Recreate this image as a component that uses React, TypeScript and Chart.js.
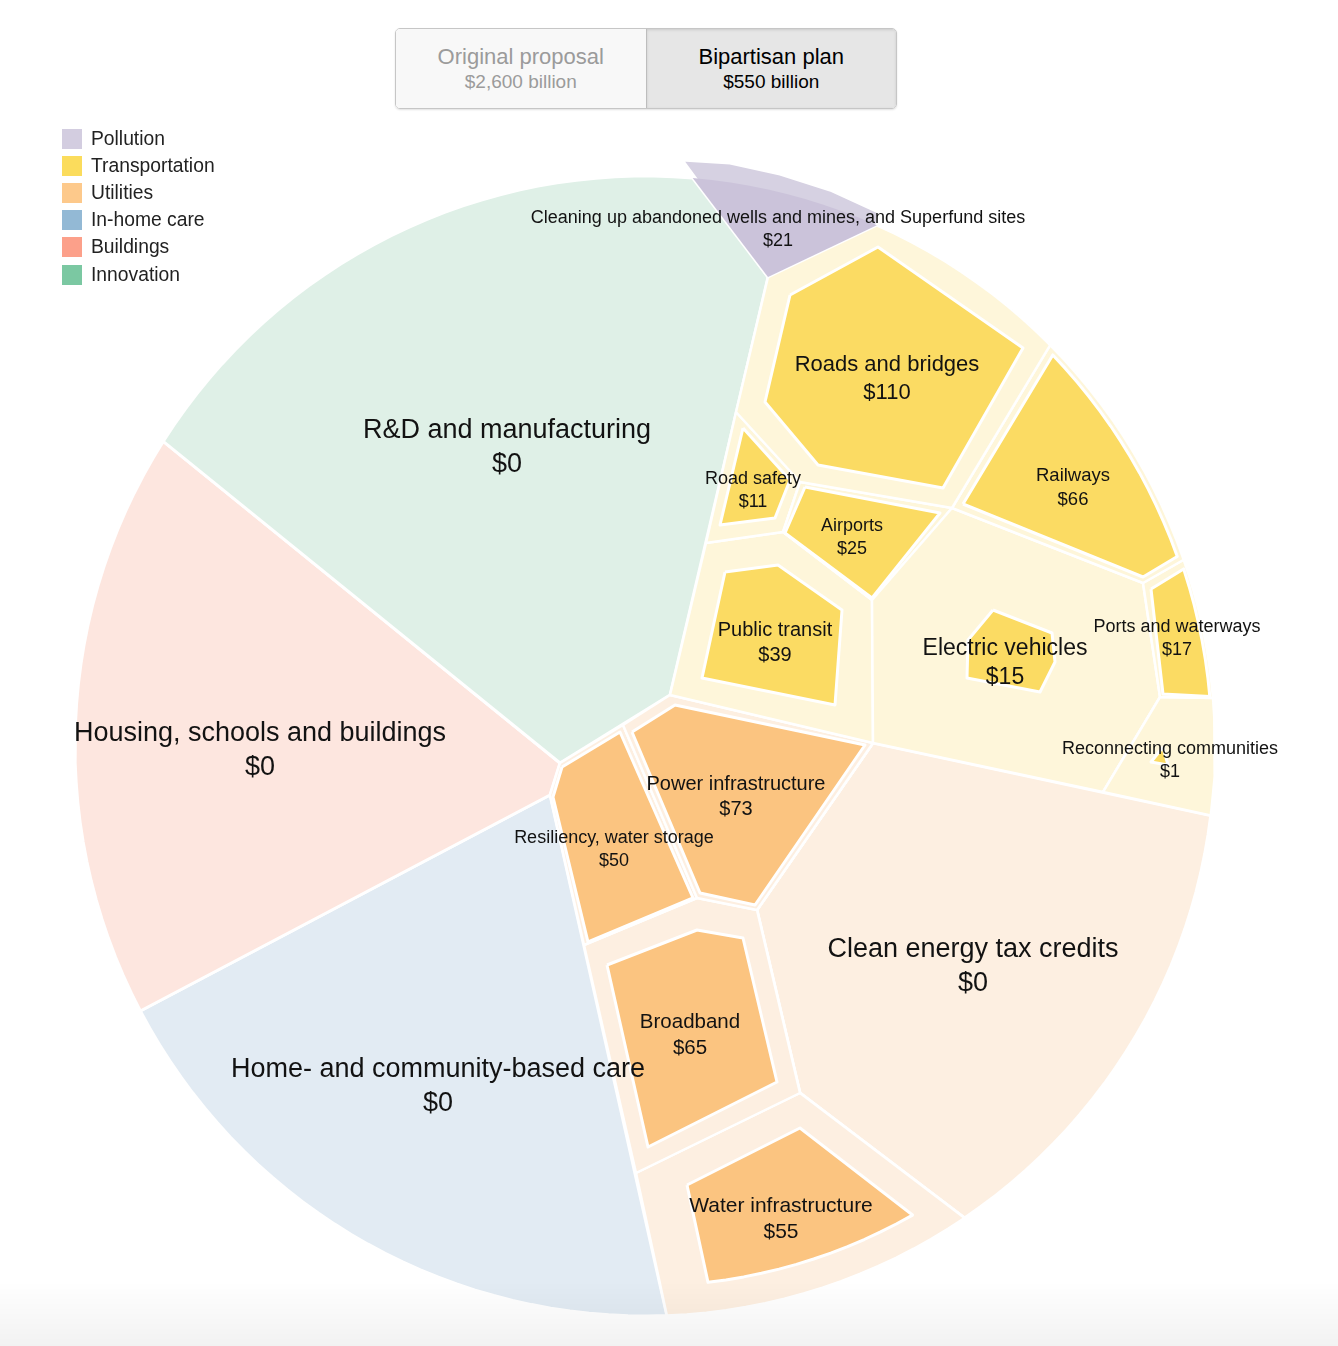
import React, { useEffect, useRef } from 'react';
import { Chart, registerables } from 'chart.js';

Chart.register(...registerables);

// ---------------- DATA ----------------
const plans = ['Original proposal', 'Bipartisan plan'];
const planTotals = [2600, 550]; // $ billion

const groups = ['Pollution', 'Transportation', 'Utilities', 'In-home care', 'Buildings', 'Innovation'];

const programs = [
  'Cleaning up abandoned wells and mines, and Superfund sites',
  'Roads and bridges',
  'Railways',
  'Ports and waterways',
  'Reconnecting communities',
  'Electric vehicles',
  'Airports',
  'Road safety',
  'Public transit',
  'Power infrastructure',
  'Resiliency, water storage',
  'Broadband',
  'Water infrastructure',
  'R&D and manufacturing',
  'Housing, schools and buildings',
  'Home- and community-based care',
  'Clean energy tax credits',
];
const programGroups = [
  'Pollution',
  'Transportation', 'Transportation', 'Transportation', 'Transportation',
  'Transportation', 'Transportation', 'Transportation', 'Transportation',
  'Utilities', 'Utilities', 'Utilities', 'Utilities',
  'Innovation', 'Buildings', 'In-home care', 'Utilities',
];
const bipartisanValues = [21, 110, 66, 17, 1, 15, 25, 11, 39, 73, 50, 65, 55, 0, 0, 0, 0];

// ---------------- STYLE ----------------
const legendSwatch: Record<string, string> = {
  Pollution: '#d3cde0',
  Transportation: '#fbdc5c',
  Utilities: '#fdc98b',
  'In-home care': '#93b9d5',
  Buildings: '#fca08a',
  Innovation: '#7bc8a2',
};
const lightFill: Record<string, string> = {
  Pollution: '#d6d1e2',
  Transportation: '#fef6da',
  Utilities: '#fdefe1',
  'In-home care': '#e2ebf3',
  Buildings: '#fde6df',
  Innovation: '#dff0e7',
};
const fundedFill: Record<string, string> = {
  Pollution: '#cbc3da',
  Transportation: '#fbdb63',
  Utilities: '#fbc480',
};
const FONT = '"Liberation Sans", Arial, Helvetica, sans-serif';

// ---------------- LAYOUT (Voronoi treemap geometry, in px space) ----------------
type Pt = [number, number];
const CX = 645;
const CY = 746;
const R = 570;
const arc = (a0: number, a1: number, r: number = R): Pt[] => {
  const n = Math.max(2, Math.ceil(Math.abs(a1 - a0) / 2));
  const out: Pt[] = [];
  for (let i = 0; i <= n; i++) {
    const a = ((a0 + ((a1 - a0) * i) / n) * Math.PI) / 180;
    out.push([CX + r * Math.cos(a), CY + r * Math.sin(a)]);
  }
  return out;
};

// top-level blocks
const blockShapes: { group: string; pts: Pt[] }[] = [
  { group: 'Pollution', pts: [[768, 277], [682, 160], [730, 163], [780, 174], [830, 190], [878, 212], [877, 225]] },
  { group: 'Innovation', pts: [[560, 763], ...arc(212.3, 274.8), [768, 277], [670, 695]] },
  { group: 'Buildings', pts: [[560, 763], ...arc(212.3, 152.3), [550, 795]] },
  { group: 'In-home care', pts: [[550, 795], ...arc(152.3, 87.8)] },
  { group: 'Utilities', pts: [[560, 763], [670, 695], [873, 743], [757, 910], [800, 1093], ...arc(55.9, 87.8), [550, 795]] },
  { group: 'Utilities', pts: [[873, 743], ...arc(7, 55.9), [800, 1093], [757, 910]] },
  { group: 'Transportation', pts: [[670, 695], [768, 277], ...arc(-66, 7), [873, 743]] },
];

// second-level cells (sized by the original proposal)
const tA: Pt = [670, 695], tB: Pt = [768, 277], tE: Pt = [952, 508], tG: Pt = [1143, 583];
const tH: Pt = [1160, 697], tJ: Pt = [1103, 792], tL: Pt = [873, 743], tM: Pt = [872, 600];
const tN: Pt = [783, 532], tO: Pt = [706, 543], tP: Pt = [800, 482], tQ: Pt = [736, 412];
const uU1: Pt = [560, 763], uV1: Pt = [623, 725], uU2: Pt = [670, 695], uU3: Pt = [873, 743];
const uU4: Pt = [757, 910], uV2: Pt = [697, 898], uV3: Pt = [584, 945], uU8: Pt = [550, 795];
const uU5: Pt = [800, 1093], uV4: Pt = [636, 1173];

const cellShapes: { group: string; pts: Pt[] }[] = [
  { group: 'Transportation', pts: [tB, ...arc(-66, -44.7), tE, tP, tQ] },
  { group: 'Transportation', pts: [...arc(-44.7, -19.07), tG, tE] },
  { group: 'Transportation', pts: [...arc(-19.07, -4.83), tH, tG] },
  { group: 'Transportation', pts: [tH, ...arc(-4.83, 7), tJ] },
  { group: 'Transportation', pts: [tE, tG, tH, tJ, tL, tM] },
  { group: 'Transportation', pts: [tP, tE, tM, tN] },
  { group: 'Transportation', pts: [tQ, tP, tN, tO] },
  { group: 'Transportation', pts: [tO, tN, tM, tL, tA] },
  { group: 'Utilities', pts: [uV1, uU2, uU3, uU4, uV2] },
  { group: 'Utilities', pts: [uU1, uV1, uV2, uV3, uU8] },
  { group: 'Utilities', pts: [uV3, uV2, uU4, uU5, uV4] },
  { group: 'Utilities', pts: [uV4, uU5, ...arc(55.9, 87.8)] },
];

// inner polygons (sized by the bipartisan plan), one per program index
const fundedShapes: (Pt[] | null)[] = [
  [[768, 277], ...arc(274.8, 294)],
  [[790, 295], [878, 247], [1023, 348], [943, 488], [818, 465], [765, 402]],
  [[963, 504], ...arc(-43.8, -19.6, 565), [1143, 577]],
  [[1151, 589], ...arc(-18.2, -5, 567), [1163, 694]],
  [[1163, 747], [1151, 762], [1168, 765]],
  [[993, 610], [1052, 633], [1055, 662], [1040, 692], [967, 678], [968, 640]],
  [[805, 487], [940, 513], [872, 598], [785, 533]],
  [[743, 428], [790, 480], [775, 518], [720, 525]],
  [[725, 572], [778, 565], [842, 610], [835, 705], [702, 678]],
  [[632, 732], [675, 705], [865, 745], [755, 905], [700, 893]],
  [[562, 767], [620, 732], [693, 898], [588, 942], [553, 797]],
  [[607, 965], [697, 930], [743, 938], [777, 1082], [648, 1147]],
  [[687, 1185], [800, 1128], ...arc(60.3, 83.3, 540)],
  null, null, null, null,
];

const labelAnchors: Pt[] = [
  [778, 228], [887, 377], [1073, 486], [1177, 637], [1170, 759], [1005, 661],
  [852, 536], [753, 489], [775, 641], [736, 795], [614, 848], [690, 1033],
  [781, 1217], [507, 445], [260, 748], [438, 1084], [973, 964],
];
const labelSizes = [18, 22, 18.5, 18, 18, 23, 18, 18, 20, 20, 18, 20.5, 21, 27, 27, 27, 27];

// ---------------- CHART ----------------
const closed = (pts: Pt[]) => [...pts, pts[0]].map(([x, y]) => ({ x, y }));

const labelPlugin = {
  id: 'cellLabels',
  afterDatasetsDraw(chart: any) {
    const { ctx, scales } = chart;
    const xs = scales.x;
    const ys = scales.y;
    ctx.save();
    ctx.fillStyle = '#121212';
    ctx.textAlign = 'center';
    ctx.textBaseline = 'middle';
    programs.forEach((name, i) => {
      const fs = labelSizes[i];
      const px = xs.getPixelForValue(labelAnchors[i][0]);
      const py = ys.getPixelForValue(labelAnchors[i][1]) + fs * 0.1;
      ctx.font = `${fs}px ${FONT}`;
      ctx.fillText(name, px, py - fs * 0.63);
      ctx.fillText('$' + bipartisanValues[i], px, py + fs * 0.63);
    });
    ctx.restore();
  },
};

export default function App() {
  const ref = useRef<HTMLCanvasElement | null>(null);

  useEffect(() => {
    if (!ref.current) return;
    const datasets: any[] = [];
    const base = {
      showLine: true,
      pointRadius: 0,
      pointHoverRadius: 0,
      borderColor: '#ffffff',
      borderJoinStyle: 'round',
      tension: 0,
      fill: 'shape',
      clip: false,
    };
    blockShapes.forEach((b, i) => {
      datasets.push({ ...base, label: 'block' + i, data: closed(b.pts), backgroundColor: lightFill[b.group], borderWidth: 3, order: 3 });
    });
    cellShapes.forEach((c, i) => {
      datasets.push({ ...base, label: 'cell' + i, data: closed(c.pts), backgroundColor: lightFill[c.group], borderWidth: 2.5, order: 2 });
    });
    programs.forEach((name, i) => {
      const s = fundedShapes[i];
      if (!s || bipartisanValues[i] <= 0) return;
      datasets.push({ ...base, label: name, data: closed(s), backgroundColor: fundedFill[programGroups[i]], borderWidth: i === 0 ? 0 : 3, order: 1 });
    });

    const chart = new Chart(ref.current, {
      type: 'scatter',
      data: { datasets },
      options: {
        animation: false,
        responsive: false,
        devicePixelRatio: 1,
        events: [],
        layout: { padding: 0 },
        scales: {
          x: { type: 'linear', min: 0, max: 1338, display: false },
          y: { type: 'linear', min: 0, max: 1346, reverse: true, display: false },
        },
        plugins: { legend: { display: false }, tooltip: { enabled: false } },
      } as any,
      plugins: [labelPlugin],
    });
    return () => chart.destroy();
  }, []);

  return (
    <div style={{ position: 'absolute', left: 0, top: 0, width: 1338, height: 1346, background: '#fff', fontFamily: FONT, overflow: 'hidden' }}>
      <canvas ref={ref} width={1338} height={1346} style={{ position: 'absolute', left: 0, top: 0, width: 1338, height: 1346 }} />
      <div style={{ position: 'absolute', left: 395, top: 28, width: 502, height: 81, display: 'flex', border: '1px solid #c6c6c6', borderRadius: 5, overflow: 'hidden', boxShadow: '0 1px 2px rgba(0,0,0,0.12)', boxSizing: 'border-box' }}>
        {plans.map((p, i) => (
          <div key={p} style={{ flex: '1 1 0', background: i === 0 ? '#f8f8f8' : '#e6e6e6', color: i === 0 ? '#9b9b9b' : '#000', borderLeft: i === 1 ? '1px solid #bdbdbd' : 'none', boxShadow: i === 1 ? 'inset 0 1px 3px rgba(0,0,0,0.12)' : 'none', display: 'flex', flexDirection: 'column', alignItems: 'center', justifyContent: 'center' }}>
            <div style={{ fontSize: 22, lineHeight: '26px' }}>{p}</div>
            <div style={{ fontSize: 19, lineHeight: '23px' }}>${planTotals[i].toLocaleString('en-US')} billion</div>
          </div>
        ))}
      </div>
      <div style={{ position: 'absolute', left: 62, top: 125 }}>
        {groups.map((g) => (
          <div key={g} style={{ display: 'flex', alignItems: 'center', height: 27.2 }}>
            <div style={{ width: 20, height: 20, background: legendSwatch[g], marginRight: 9 }} />
            <div style={{ fontSize: 19.3, color: '#222', lineHeight: '22px' }}>{g}</div>
          </div>
        ))}
      </div>
      <div style={{ position: 'absolute', left: 0, top: 1282, width: 1338, height: 64, background: 'linear-gradient(to bottom, rgba(0,0,0,0), rgba(0,0,0,0.05))', pointerEvents: 'none' }} />
    </div>
  );
}
